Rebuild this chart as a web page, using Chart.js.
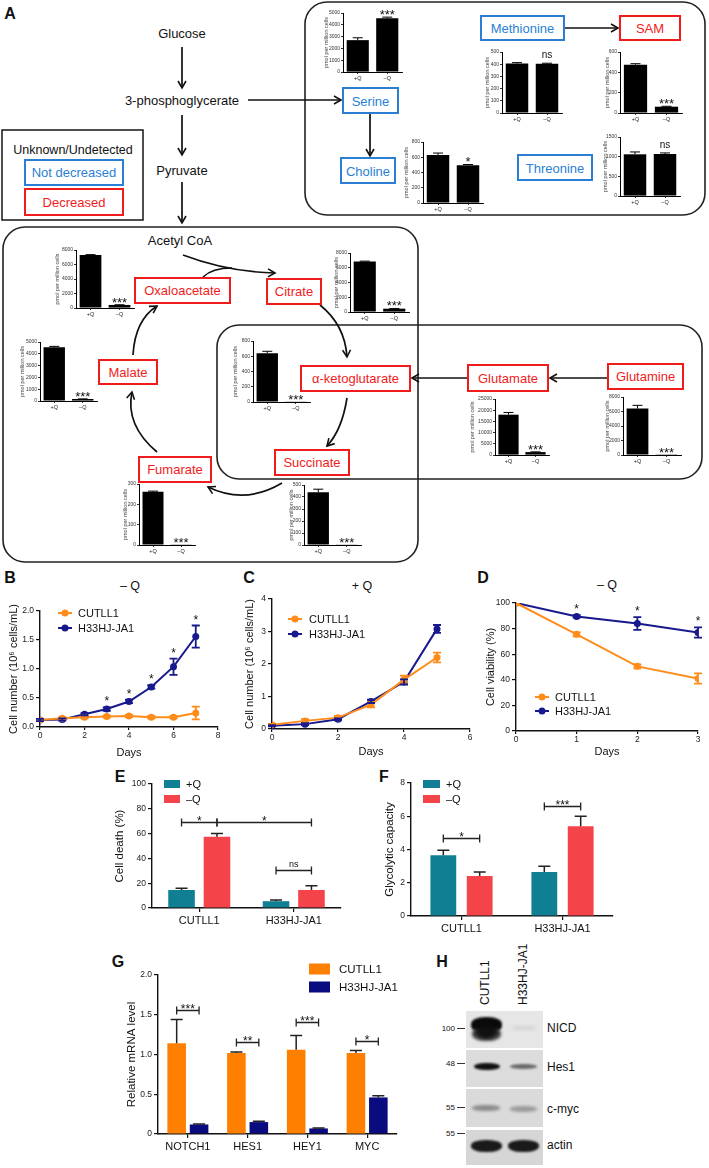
<!DOCTYPE html>
<html><head><meta charset="utf-8">
<script src="https://cdn.jsdelivr.net/npm/chart.js@4.4.1/dist/chart.umd.min.js"></script>
<style>
html,body{margin:0;padding:0;background:#fff;}
#wrap{position:relative;width:709px;height:1168px;overflow:hidden;font-family:'Liberation Sans',Arial,Helvetica,sans-serif;color:#111;}
.t{position:absolute;white-space:nowrap;transform:translate(-50%,-50%);}
.pl{position:absolute;font-weight:bold;font-size:16px;transform:translate(-50%,-50%);}
canvas{position:absolute;}
.band{position:absolute;border-radius:45%;}
.blot{position:absolute;left:466px;width:77px;}
.bl{position:absolute;font-size:12px;transform:translateY(-50%);}
.mw{position:absolute;font-size:8px;transform:translate(-100%,-50%);}
.mwl{position:absolute;width:8px;height:1px;background:#333;}
</style></head><body><div id="wrap">
<svg width="709" height="1168" style="position:absolute;left:0;top:0" font-family="Liberation Sans, Arial, sans-serif">
<defs><marker id="ah" markerWidth="12" markerHeight="12" refX="8" refY="5" orient="auto" markerUnits="userSpaceOnUse"><path d="M1,1 L8,5 L1,9" fill="none" stroke="#111" stroke-width="1.6"/></marker></defs>
<g fill="none" stroke="#222" stroke-width="1.6">
<rect x="305" y="2" width="400" height="213" rx="22"/>
<rect x="3" y="227" width="415" height="335" rx="22"/>
<rect x="217" y="325" width="485" height="154" rx="22"/>
<rect x="2" y="130" width="141" height="90"/>
</g>
<g fill="none" stroke="#111" stroke-width="1.7" marker-end="url(#ah)">
<path d="M182,47 L182,88"/>
<path d="M182,115 L182,155"/>
<path d="M182,182 L182,223"/>
<path d="M248,100 L341,100"/>
<path d="M370,113 L370,156"/>
<path d="M564,28 L618,28"/>
<path d="M608,378 L550,378"/>
<path d="M468,378 L412,378"/>
<path d="M183,255 Q228,272 275,273"/>
<path d="M320,305 Q345,325 347,357"/>
<path d="M347,398 Q342,430 327,446"/>
<path d="M282,483 Q245,505 208,487"/>
<path d="M157,452 Q125,425 132,392"/>
<path d="M133,355 Q135,320 157,306"/>
</g>
<path d="M203,277 Q212,268 232,268" fill="none" stroke="#111" stroke-width="1.7"/>
<g fill="#fff" stroke-width="2">
<rect x="25" y="160" width="98" height="25" stroke="#2a7fd4"/>
<rect x="25" y="189" width="98" height="26" stroke="#f01c1c"/>
<rect x="343" y="88" width="55" height="25" stroke="#2a7fd4"/>
<rect x="341" y="158" width="54" height="25" stroke="#2a7fd4"/>
<rect x="481" y="16" width="83" height="24" stroke="#2a7fd4"/>
<rect x="620" y="16" width="60" height="24" stroke="#f01c1c"/>
<rect x="518" y="155" width="74" height="25" stroke="#2a7fd4"/>
<rect x="135" y="278" width="95" height="25" stroke="#f01c1c"/>
<rect x="267" y="279" width="54" height="25" stroke="#f01c1c"/>
<rect x="301" y="366" width="109" height="25" stroke="#f01c1c"/>
<rect x="468" y="365" width="80" height="26" stroke="#f01c1c"/>
<rect x="608" y="364" width="75" height="25" stroke="#f01c1c"/>
<rect x="275" y="450" width="74" height="25" stroke="#f01c1c"/>
<rect x="139" y="457" width="72" height="25" stroke="#f01c1c"/>
<rect x="99" y="360" width="58" height="24" stroke="#f01c1c"/>
</g>
<g font-size="13" text-anchor="middle" dominant-baseline="central" fill="#111">
<text x="182" y="33">Glucose</text>
<text x="182" y="100">3-phosphoglycerate</text>
<text x="182" y="170">Pyruvate</text>
<text x="180" y="240">Acetyl CoA</text>
<text x="73" y="150" font-size="12.5">Unknown/Undetected</text>
</g>
<g font-size="13" text-anchor="middle" dominant-baseline="central" fill="#2a7fd4">
<text x="74" y="172.5">Not decreased</text>
<text x="370.5" y="101">Serine</text>
<text x="368" y="171">Choline</text>
<text x="522.5" y="28">Methionine</text>
<text x="555" y="168">Threonine</text>
</g>
<g font-size="13" text-anchor="middle" dominant-baseline="central" fill="#f01c1c">
<text x="74" y="202">Decreased</text>
<text x="650" y="28">SAM</text>
<text x="182.5" y="290.5">Oxaloacetate</text>
<text x="294" y="291.5">Citrate</text>
<text x="355.5" y="378.5">α-ketoglutarate</text>
<text x="508" y="378">Glutamate</text>
<text x="645.5" y="376.5">Glutamine</text>
<text x="312" y="462.5">Succinate</text>
<text x="175" y="469.5">Fumarate</text>
<text x="128" y="372">Malate</text>
</g>
</svg>
<div class="pl" style="left:10px;top:14px">A</div>
<div class="pl" style="left:10px;top:578px">B</div>
<div class="pl" style="left:249px;top:578px">C</div>
<div class="pl" style="left:483px;top:578px">D</div>
<div class="pl" style="left:120px;top:777px">E</div>
<div class="pl" style="left:384px;top:777px">F</div>
<div class="pl" style="left:118px;top:962px">G</div>
<div class="pl" style="left:442px;top:962px">H</div>
<div class="t" style="left:130px;top:586px;font-size:12.5px">– Q</div>
<div class="t" style="left:362px;top:586px;font-size:12.5px">+ Q</div>
<div class="t" style="left:607px;top:585px;font-size:12.5px">– Q</div>

<div class="blot" style="top:1011px;height:37px;background:#e6e6e6"></div>
<div class="blot" style="top:1050px;height:37px;background:#dcdcdc"></div>
<div class="blot" style="top:1089px;height:38px;background:#dadada"></div>
<div class="blot" style="top:1130px;height:35px;background:#d6d6d6"></div>
<div class="band" style="left:471px;top:1017px;width:31px;height:16px;background:#0a0a0a;filter:blur(1.3px)"></div>
<div class="band" style="left:472px;top:1027px;width:29px;height:14px;background:radial-gradient(ellipse at 50% 30%,#111 40%,#555 75%,rgba(120,120,120,0) 100%);filter:blur(1.4px)"></div>
<div class="band" style="left:512px;top:1026px;width:24px;height:4px;background:#d4d4d4;filter:blur(1.5px)"></div>
<div class="band" style="left:474px;top:1063px;width:26px;height:7px;background:#111;filter:blur(1px)"></div>
<div class="band" style="left:510px;top:1064px;width:27px;height:5px;background:#6a6a6a;filter:blur(1.2px)"></div>
<div class="band" style="left:472px;top:1105px;width:28px;height:6px;background:#8a8a8a;filter:blur(1.5px)"></div>
<div class="band" style="left:510px;top:1106px;width:27px;height:6px;background:#9a9a9a;filter:blur(1.5px)"></div>
<div class="band" style="left:471px;top:1140px;width:31px;height:12px;background:#1a1a1a;filter:blur(1.2px)"></div>
<div class="band" style="left:508px;top:1140px;width:31px;height:12px;background:#1a1a1a;filter:blur(1.2px)"></div>
<div class="bl" style="left:547px;top:1028px">NICD</div>
<div class="bl" style="left:547px;top:1067px">Hes1</div>
<div class="bl" style="left:547px;top:1109px">c-myc</div>
<div class="bl" style="left:547px;top:1145px">actin</div>
<div class="mw" style="left:455px;top:1028px">100</div><div class="mwl" style="left:457px;top:1028px"></div>
<div class="mw" style="left:455px;top:1063px">48</div><div class="mwl" style="left:457px;top:1063px"></div>
<div class="mw" style="left:455px;top:1107px">55</div><div class="mwl" style="left:457px;top:1107px"></div>
<div class="mw" style="left:455px;top:1133px">55</div><div class="mwl" style="left:457px;top:1133px"></div>
<div style="position:absolute;left:478px;top:1005px;font-size:12px;transform:rotate(-90deg);transform-origin:0 0;white-space:nowrap">CUTLL1</div>
<div style="position:absolute;left:516px;top:1005px;font-size:12px;transform:rotate(-90deg);transform-origin:0 0;white-space:nowrap">H33HJ-JA1</div>
</div>
<script>
// ---------- DATA ----------
const qLabels = ['+Q', '–Q'];
const serine = [2700, 4550], serineErr = [200, 100], serineSig = '***';
const methionine = [405, 403], methionineErr = [8, 5], methionineSig = 'ns';
const sam = [475, 62], samErr = [10, 4], samSig = '***';
const choline = [630, 495], cholineErr = [25, 10], cholineSig = '*';
const threonine = [1060, 1070], threonineErr = [60, 25], threonineSig = 'ns';
const oxaloacetate = [7300, 420], oxaloacetateErr = [60, 30], oxaloacetateSig = '***';
const citrate = [6850, 450], citrateErr = [50, 30], citrateSig = '***';
const malate = [4550, 170], malateErr = [80, 10], malateSig = '***';
const akg = [640, 3], akgErr = [25, 0], akgSig = '***';
const glutamate = [18000, 1300], glutamateErr = [1000, 100], glutamateSig = '***';
const glutamine = [6400, 20], glutamineErr = [450, 0], glutamineSig = '***';
const succinate = [440, 2], succinateErr = [25, 0], succinateSig = '***';
const fumarate = [262, 1], fumarateErr = [3, 0], fumarateSig = '***';

const seriesNames = ['CUTLL1', 'H33HJ-JA1'];
const bDays = [0, 1, 2, 3, 4, 5, 6, 7];
const bCUTLL1 = [0.12, 0.15, 0.17, 0.18, 0.19, 0.17, 0.17, 0.24];
const bCUTLL1Err = [0.02, 0.02, 0.02, 0.02, 0.02, 0.02, 0.02, 0.11];
const bH33 = [0.12, 0.13, 0.22, 0.31, 0.44, 0.69, 1.04, 1.56];
const bH33Err = [0.02, 0.02, 0.02, 0.03, 0.03, 0.03, 0.14, 0.19];
const bStarIdx = [3, 4, 5, 6, 7];

const cDays = [0, 1, 2, 3, 4, 5];
const cCUTLL1 = [0.13, 0.25, 0.35, 0.75, 1.52, 2.2];
const cCUTLL1Err = [0.03, 0.05, 0.05, 0.08, 0.12, 0.15];
const cH33 = [0.1, 0.15, 0.3, 0.85, 1.45, 3.08];
const cH33Err = [0.02, 0.03, 0.03, 0.05, 0.08, 0.12];

const dDays = [0, 1, 2, 3];
const dCUTLL1 = [100, 75.5, 50.5, 41];
const dCUTLL1Err = [0, 1.5, 1.5, 4];
const dH33 = [100, 89.5, 84, 77];
const dH33Err = [0, 1, 5, 4];
const dStarIdx = [1, 2, 3];

const condNames = ['+Q', '–Q'];
const cellLines = ['CUTLL1', 'H33HJ-JA1'];
const eDeathPlusQ = [14.5, 5.5], eDeathPlusQErr = [1.5, 1];
const eDeathMinusQ = [57.5, 14.5], eDeathMinusQErr = [2.5, 3.5];
const fGlyPlusQ = [3.65, 2.65], fGlyPlusQErr = [0.3, 0.35];
const fGlyMinusQ = [2.4, 5.4], fGlyMinusQErr = [0.25, 0.6];

const genes = ['NOTCH1', 'HES1', 'HEY1', 'MYC'];
const gCUTLL1 = [1.14, 1.02, 1.06, 1.02], gCUTLL1Err = [0.30, 0.01, 0.18, 0.03];
const gH33 = [0.12, 0.15, 0.07, 0.46], gH33Err = [0.005, 0.01, 0.005, 0.02];
const gSig = ['***', '**', '***', '*'];
const gSigLevel = [1.56, 1.16, 1.41, 1.17];

// ---------- HELPERS ----------
const FF = "'Liberation Sans', Arial, Helvetica, sans-serif";
Chart.defaults.font.family = FF;
Chart.defaults.color = '#222';
const ORANGE = '#FF8C1A', NAVY = '#17198C', TEAL = '#117F93', RED = '#F5434A', GOR = '#FF8000', GNAVY = '#0B0B80';
const wrap = document.getElementById('wrap');

function place(area, yw, xh, pad) {
  const left = Math.round(area.l - yw - pad.l);
  const top = Math.round(area.t - pad.t);
  const width = Math.round(area.r + pad.r - left);
  const height = Math.round(area.b + xh + pad.b - top);
  const c = document.createElement('canvas');
  c.width = width; c.height = height;
  c.style.left = left + 'px'; c.style.top = top + 'px';
  c.style.width = width + 'px'; c.style.height = height + 'px';
  wrap.appendChild(c);
  return c;
}

function annot(cfg) {
  cfg = cfg || {};
  const valOf = (ds, i) => { const r = ds.data[i]; return (r !== null && typeof r === 'object') ? r.y : r; };
  return {
    id: 'annot',
    afterDatasetsDraw(chart) {
      const ctx = chart.ctx;
      chart.data.datasets.forEach((ds, di) => {
        if (!ds.errors) return;
        const meta = chart.getDatasetMeta(di);
        const ys = chart.scales[meta.yAxisID];
        ctx.save();
        ctx.strokeStyle = ds.errorColor || ds.borderColor;
        ctx.lineWidth = ds.errorWidth || 1.2;
        meta.data.forEach((el, i) => {
          const e = ds.errors[i];
          if (!e) return;
          const v = valOf(ds, i);
          const yt = ys.getPixelForValue(v + e);
          const yb = ds.errorUpOnly ? ys.getPixelForValue(v) : ys.getPixelForValue(v - e);
          const cw = ds.capWidth || 4;
          ctx.beginPath();
          ctx.moveTo(el.x, yt); ctx.lineTo(el.x, yb);
          ctx.moveTo(el.x - cw, yt); ctx.lineTo(el.x + cw, yt);
          if (!ds.errorUpOnly) { ctx.moveTo(el.x - cw, yb); ctx.lineTo(el.x + cw, yb); }
          ctx.stroke();
        });
        ctx.restore();
      });
    },
    afterDraw(chart) {
      const ctx = chart.ctx;
      const ys = chart.scales.y;
      (cfg.stars || []).forEach(s => {
        const ds = chart.data.datasets[s.ds];
        const el = chart.getDatasetMeta(s.ds).data[s.idx];
        const e = ds.errors ? (ds.errors[s.idx] || 0) : 0;
        const y = ys.getPixelForValue(valOf(ds, s.idx) + e);
        ctx.save(); ctx.fillStyle = '#111'; ctx.font = s.font; ctx.textAlign = 'center'; ctx.textBaseline = 'alphabetic';
        ctx.fillText(s.text, el.x + (s.dx || 0), y + (s.dy || 0));
        ctx.restore();
      });
      (cfg.brackets || []).forEach(b => {
        const x1 = chart.getDatasetMeta(b.a[0]).data[b.a[1]].x;
        const x2 = chart.getDatasetMeta(b.b[0]).data[b.b[1]].x;
        const y = Math.round(ys.getPixelForValue(b.v)) + 0.5;
        const cap = b.cap || 4;
        ctx.save(); ctx.strokeStyle = '#222'; ctx.lineWidth = 1.3;
        ctx.beginPath(); ctx.moveTo(x1, y); ctx.lineTo(x2, y);
        ctx.moveTo(x1, y - cap); ctx.lineTo(x1, y + cap); ctx.moveTo(x2, y - cap); ctx.lineTo(x2, y + cap); ctx.stroke();
        ctx.fillStyle = '#111'; ctx.font = b.font; ctx.textAlign = 'center'; ctx.textBaseline = 'alphabetic';
        ctx.fillText(b.text, (x1 + x2) / 2, y + (b.dy || 0));
        ctx.restore();
      });
      const L = cfg.legend;
      if (L) {
        const ox = chart.canvas.offsetLeft, oy = chart.canvas.offsetTop;
        chart.data.datasets.forEach((ds, i) => {
          const y = L.y + i * L.dy - oy, x = L.x - ox;
          ctx.save();
          if (L.kind === 'line') {
            ctx.strokeStyle = ds.borderColor; ctx.lineWidth = 2;
            ctx.beginPath(); ctx.moveTo(x, y); ctx.lineTo(x + L.w, y); ctx.stroke();
            ctx.fillStyle = ds.borderColor; ctx.beginPath(); ctx.arc(x + L.w / 2, y, 3.5, 0, Math.PI * 2); ctx.fill();
          } else {
            ctx.fillStyle = ds.backgroundColor; ctx.fillRect(x, y - L.h / 2, L.w, L.h);
          }
          ctx.fillStyle = '#111'; ctx.font = L.font; ctx.textAlign = 'left'; ctx.textBaseline = 'middle';
          ctx.fillText(ds.label, x + L.w + L.gap, y + 0.5);
          ctx.restore();
        });
      }
    }
  };
}

function common(scales) {
  return {
    responsive: false, maintainAspectRatio: false, devicePixelRatio: 1, animation: false,
    plugins: { legend: { display: false }, tooltip: { enabled: false }, title: { display: false } },
    scales
  };
}

function yAxis(max, step, fs, title, tfs, yw, fmt, min) {
  return {
    min: min || 0, max,
    ticks: { stepSize: step, font: { size: fs }, color: '#222', padding: 2, callback: fmt || (v => String(v)) },
    grid: { drawOnChartArea: false, drawTicks: true, tickLength: 4, color: '#111', lineWidth: 1.2 },
    border: { display: true, color: '#111', width: 1.4 },
    title: { display: !!title, text: title, font: { size: tfs }, color: '#111', padding: 0 },
    afterFit: s => { s.width = yw; }
  };
}

// ---------- MINI BAR CHARTS (panel A) ----------
function mini(vals, errs, sig, max, step, area, yw) {
  const pad = { l: 0, r: 3, t: 4, b: 0 };
  const cv = place(area, yw, 11, pad);
  const isNs = sig === 'ns';
  const chart = new Chart(cv, {
    type: 'bar',
    data: { labels: qLabels, datasets: [{ data: vals, errors: errs, errorUpOnly: true, backgroundColor: '#000', borderWidth: 0, barPercentage: 0.75, categoryPercentage: 1, capWidth: 5, errorWidth: 1, errorColor: '#000' }] },
    options: Object.assign(common({
      x: { grid: { offset: false, drawOnChartArea: false, drawTicks: true, tickLength: 2, color: '#000', lineWidth: 0.8 }, border: { color: '#000', width: 1 }, ticks: { font: { size: 5.5 }, color: '#222', padding: 1 }, afterFit: s => { s.height = 11; } },
      y: { min: 0, max, ticks: { stepSize: step, font: { size: 5 }, color: '#333', padding: 1, callback: v => String(v) }, grid: { drawOnChartArea: false, tickLength: 2, color: '#000', lineWidth: 0.8 }, border: { color: '#000', width: 1 }, title: { display: true, text: 'pmol per million cells', font: { size: 5.5 }, color: '#444', padding: 0 }, afterFit: s => { s.width = yw; } }
    }), { layout: { padding: { left: pad.l, right: pad.r, top: pad.t, bottom: pad.b } } }),
    plugins: [annot({ stars: [{ ds: 0, idx: 1, text: sig, font: isNs ? '10px ' + FF : '13px ' + FF, dy: isNs ? -5 : 2 }] })]
  });
  return chart;
}

mini(serine, serineErr, serineSig, 5000, 1000, { l: 343, t: 13, r: 402, b: 72 }, 20);
mini(methionine, methionineErr, methionineSig, 500, 100, { l: 502, t: 52, r: 562, b: 113 }, 18);
mini(sam, samErr, samSig, 600, 200, { l: 620, t: 52, r: 682, b: 113 }, 16);
mini(choline, cholineErr, cholineSig, 800, 200, { l: 423, t: 142, r: 483, b: 203 }, 20);
mini(threonine, threonineErr, threonineSig, 1500, 500, { l: 620, t: 137, r: 680, b: 196 }, 18);
mini(oxaloacetate, oxaloacetateErr, oxaloacetateSig, 8000, 2000, { l: 76, t: 250, r: 134, b: 308 }, 22);
mini(citrate, citrateErr, citrateSig, 8000, 2000, { l: 350, t: 253, r: 409, b: 312 }, 17);
mini(malate, malateErr, malateSig, 5000, 1000, { l: 40, t: 342, r: 97, b: 401 }, 21);
mini(akg, akgErr, akgSig, 800, 200, { l: 253, t: 341, r: 310, b: 402 }, 21);
mini(glutamate, glutamateErr, glutamateSig, 25000, 5000, { l: 495, t: 399, r: 549, b: 455 }, 26);
mini(glutamine, glutamineErr, glutamineSig, 8000, 2000, { l: 623, t: 397, r: 681, b: 455 }, 19);
mini(succinate, succinateErr, succinateSig, 500, 100, { l: 304, t: 485, r: 361, b: 545 }, 16);
mini(fumarate, fumarateErr, fumarateSig, 300, 100, { l: 139, t: 484, r: 195, b: 545 }, 17);

// ---------- LINE CHARTS (B, C, D) ----------
function lineDs(label, xs, ys, errs, color) {
  return { label, data: xs.map((d, i) => ({ x: d, y: ys[i] })), errors: errs, borderColor: color, backgroundColor: color, pointRadius: 3.5, pointHoverRadius: 3.5, pointBorderWidth: 0, borderWidth: 2, tension: 0, capWidth: 4, errorWidth: 1.8 };
}
function xLin(max, step, xh) {
  return { type: 'linear', min: 0, max, ticks: { stepSize: step, font: { size: 8.5 }, color: '#222', padding: 1 },
    grid: { drawOnChartArea: false, tickLength: 3, color: '#111', lineWidth: 1.2 }, border: { color: '#111', width: 1.4 },
    title: { display: true, text: 'Days', font: { size: 11 }, color: '#111', padding: 0 }, afterFit: s => { s.height = xh; } };
}
const starFont = '12px ' + FF;

(function () {
  const pad = { l: 0, r: 8, t: 8, b: 0 };
  const cv = place({ l: 40, t: 611, r: 218, b: 727 }, 33, 33, pad);
  new Chart(cv, {
    type: 'line',
    data: { datasets: [lineDs(seriesNames[0], bDays, bCUTLL1, bCUTLL1Err, ORANGE), lineDs(seriesNames[1], bDays, bH33, bH33Err, NAVY)] },
    options: Object.assign(common({ x: xLin(8, 2, 33), y: yAxis(2, 0.5, 8.5, 'Cell number (10⁶ cells/mL)', 11, 33, v => v.toFixed(1)) }), { layout: { padding: { left: pad.l, right: pad.r, top: pad.t, bottom: pad.b } } }),
    plugins: [annot({ stars: bStarIdx.map(i => ({ ds: 1, idx: i, text: '*', font: starFont, dy: -2 })), legend: { kind: 'line', x: 58, y: 613, dy: 15, w: 14, gap: 6, font: '11px ' + FF } })]
  });
})();

(function () {
  const pad = { l: 0, r: 8, t: 8, b: 0 };
  const cv = place({ l: 272, t: 599, r: 470, b: 729 }, 29, 30, pad);
  new Chart(cv, {
    type: 'line',
    data: { datasets: [lineDs(seriesNames[0], cDays, cCUTLL1, cCUTLL1Err, ORANGE), lineDs(seriesNames[1], cDays, cH33, cH33Err, NAVY)] },
    options: Object.assign(common({ x: xLin(6, 2, 30), y: yAxis(4, 1, 8.5, 'Cell number (10⁶ cells/mL)', 11, 29) }), { layout: { padding: { left: pad.l, right: pad.r, top: pad.t, bottom: pad.b } } }),
    plugins: [annot({ legend: { kind: 'line', x: 288, y: 619, dy: 15, w: 14, gap: 7, font: '11px ' + FF } })]
  });
})();

(function () {
  const pad = { l: 0, r: 8, t: 8, b: 0 };
  const cv = place({ l: 516, t: 603, r: 698, b: 731 }, 32, 28, pad);
  new Chart(cv, {
    type: 'line',
    data: { datasets: [lineDs(seriesNames[0], dDays, dCUTLL1, dCUTLL1Err, ORANGE), lineDs(seriesNames[1], dDays, dH33, dH33Err, NAVY)] },
    options: Object.assign(common({ x: xLin(3, 1, 28), y: yAxis(100, 20, 8.5, 'Cell viability (%)', 11, 32) }), { layout: { padding: { left: pad.l, right: pad.r, top: pad.t, bottom: pad.b } } }),
    plugins: [annot({ stars: dStarIdx.map(i => ({ ds: 1, idx: i, text: '*', font: starFont, dy: -2 })), legend: { kind: 'line', x: 535, y: 697, dy: 14, w: 14, gap: 6, font: '11px ' + FF } })]
  });
})();

// ---------- BAR CHARTS (E, F, G) ----------
function xCat(xh, fs) {
  return { grid: { offset: false, drawOnChartArea: false, drawTicks: true, tickLength: 4, color: '#111', lineWidth: 1.2 }, border: { color: '#111', width: 1.4 }, ticks: { font: { size: fs }, color: '#111', padding: 2 }, afterFit: s => { s.height = xh; } };
}
function barDs(label, vals, errs, color, bp, cp) {
  return { label, data: vals, errors: errs, errorUpOnly: true, backgroundColor: color, borderWidth: 0, barPercentage: bp, categoryPercentage: cp, capWidth: 6, errorWidth: 1.5, errorColor: '#222' };
}

(function () {
  const pad = { l: 0, r: 4, t: 10, b: 0 };
  const cv = place({ l: 152, t: 784, r: 341, b: 908 }, 39, 20, pad);
  new Chart(cv, {
    type: 'bar',
    data: { labels: cellLines, datasets: [barDs(condNames[0], eDeathPlusQ, eDeathPlusQErr, TEAL, 0.75, 0.75), barDs(condNames[1], eDeathMinusQ, eDeathMinusQErr, RED, 0.75, 0.75)] },
    options: Object.assign(common({ x: xCat(20, 11), y: yAxis(100, 20, 8.5, 'Cell death (%)', 11.5, 39) }), { layout: { padding: { left: pad.l, right: pad.r, top: pad.t, bottom: pad.b } } }),
    plugins: [annot({
      brackets: [
        { a: [0, 0], b: [1, 0], v: 69, text: '*', font: '12px ' + FF, dy: 2 },
        { a: [1, 0], b: [1, 1], v: 69, text: '*', font: '12px ' + FF, dy: 2 },
        { a: [0, 1], b: [1, 1], v: 30.5, text: 'ns', font: '9px ' + FF, dy: -3.5 }
      ],
      legend: { kind: 'box', x: 164, y: 784, dy: 15, w: 16, h: 8, gap: 6, font: '11px ' + FF }
    })]
  });
})();

(function () {
  const pad = { l: 0, r: 4, t: 10, b: 0 };
  const cv = place({ l: 411, t: 783, r: 613, b: 916 }, 28, 20, pad);
  new Chart(cv, {
    type: 'bar',
    data: { labels: cellLines, datasets: [barDs(condNames[0], fGlyPlusQ, fGlyPlusQErr, TEAL, 0.71, 0.72), barDs(condNames[1], fGlyMinusQ, fGlyMinusQErr, RED, 0.71, 0.72)] },
    options: Object.assign(common({ x: xCat(20, 11), y: yAxis(8, 2, 8.5, 'Glycolytic capacity', 11.5, 28) }), { layout: { padding: { left: pad.l, right: pad.r, top: pad.t, bottom: pad.b } } }),
    plugins: [annot({
      brackets: [
        { a: [0, 0], b: [1, 0], v: 4.7, text: '*', font: '12px ' + FF, dy: 2 },
        { a: [0, 1], b: [1, 1], v: 6.6, text: '***', font: '12px ' + FF, dy: 2 }
      ],
      legend: { kind: 'box', x: 423, y: 784, dy: 15, w: 17, h: 8, gap: 6, font: '11px ' + FF }
    })]
  });
})();

(function () {
  const pad = { l: 0, r: 4, t: 18, b: 0 };
  const cv = place({ l: 158, t: 975, r: 397, b: 1134 }, 33, 20, pad);
  new Chart(cv, {
    type: 'bar',
    data: { labels: genes, datasets: [barDs(seriesNames[0], gCUTLL1, gCUTLL1Err, GOR, 0.83, 0.75), barDs(seriesNames[1], gH33, gH33Err, GNAVY, 0.83, 0.75)] },
    options: Object.assign(common({ x: xCat(20, 11), y: yAxis(2, 0.5, 8.5, 'Relative mRNA level', 11.5, 33, v => v === 0 ? '0' : v.toFixed(1)) }), { layout: { padding: { left: pad.l, right: pad.r, top: pad.t, bottom: pad.b } } }),
    plugins: [annot({
      brackets: genes.map((g, i) => ({ a: [0, i], b: [1, i], v: gSigLevel[i], text: gSig[i], font: '12px ' + FF, dy: 2 })),
      legend: { kind: 'box', x: 309, y: 969, dy: 18, w: 21, h: 11, gap: 9, font: '11.5px ' + FF }
    })]
  });
})();
</script>
</body></html>
